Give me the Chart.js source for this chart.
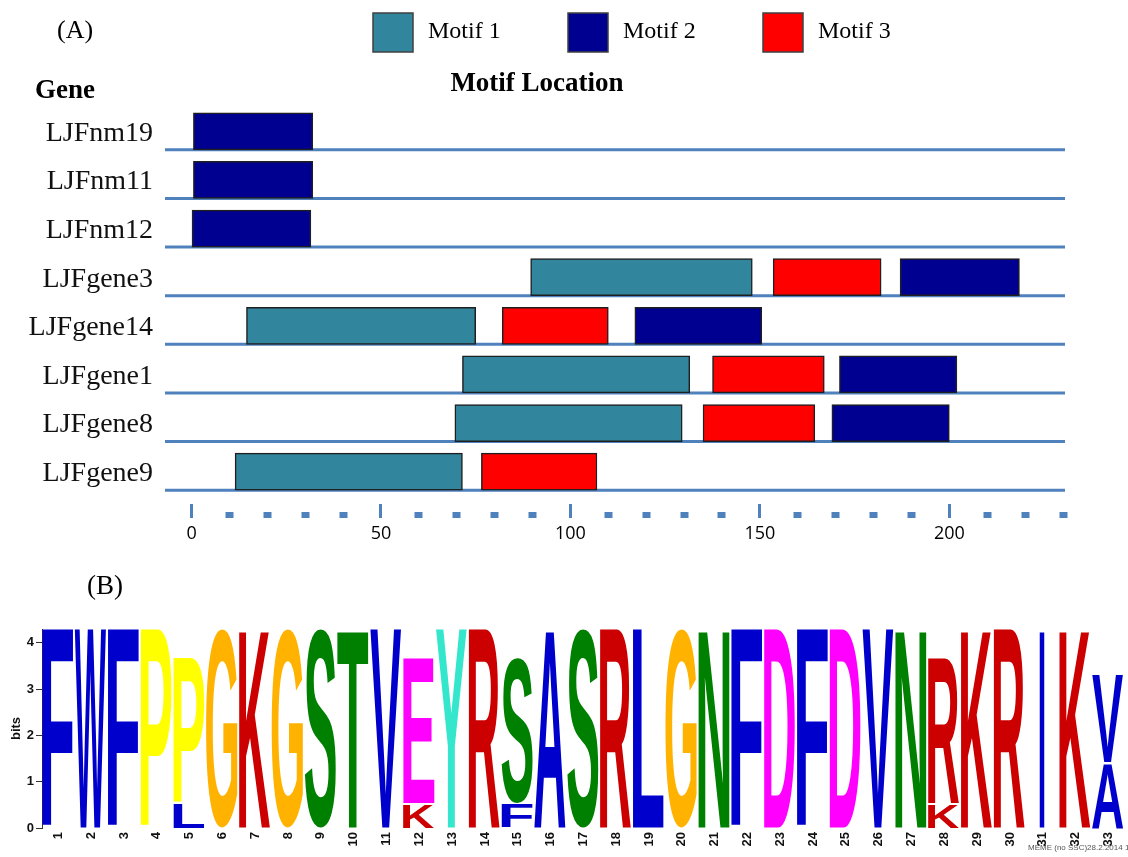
<!DOCTYPE html>
<html>
<head>
<meta charset="utf-8">
<title>Motif locations and sequence logo</title>
<script src="https://cdn.jsdelivr.net/npm/chart.js@4.4.1/dist/chart.umd.min.js"></script>
<style>
  html, body { margin: 0; padding: 0; background: #ffffff; }
  #wrap { position: relative; width: 1128px; height: 857px; overflow: hidden; background: #ffffff; }
  canvas { position: absolute; left: 0; }
  #motifs { top: 0; }
  #logo { top: 560px; }
</style>
</head>
<body>
<div id="wrap">
  <canvas id="motifs" width="1128" height="560"></canvas>
  <canvas id="logo" width="1128" height="297"></canvas>
</div>
<script>
// ---- Panel A: motif positions along each gene (start, end in residues) ----
const genes = ['LJFnm19', 'LJFnm11', 'LJFnm12', 'LJFgene3', 'LJFgene14', 'LJFgene1', 'LJFgene8', 'LJFgene9'];
const motif1 = [null, null, null, [89.5, 148], [14.5, 75], [71.5, 131.5], [69.5, 129.5], [11.5, 71.5]];
const motif2 = [[0.5, 32], [0.5, 32], [0, 31.5], [187, 218.5], [117, 150.5], [171, 202], [169, 200], null];
const motif3 = [null, null, null, [153.5, 182], [82, 110], [137.5, 167], [135, 164.5], [76.5, 107]];
const motifNames = ['Motif 1', 'Motif 2', 'Motif 3'];
const sequenceSpan = [-7, 230];
const residueTicks = [0, 10, 20, 30, 40, 50, 60, 70, 80, 90, 100, 110, 120, 130, 140, 150,
                      160, 170, 180, 190, 200, 210, 220, 230];
const residueLabels = ['0', '50', '100', '150', '200'];

// ---- Panel B: sequence logo (information content in bits) ----
const positions = ['1', '2', '3', '4', '5', '6', '7', '8', '9', '10', '11', '12', '13', '14', '15', '16', '17',
                   '18', '19', '20', '21', '22', '23', '24', '25', '26', '27', '28', '29', '30', '31', '32', '33'];
const topLetters = ['F', 'W', 'F', 'P', 'P', 'G', 'K', 'G', 'S', 'T', 'V', 'E', 'Y', 'R', 'S', 'A', 'S',
                    'R', 'L', 'G', 'N', 'F', 'D', 'F', 'D', 'V', 'N', 'R', 'K', 'R', 'I', 'K', 'V'];
const topBits = [4.3, 4.3, 4.3, 4.3, 3.16, 4.3, 4.3, 4.3, 4.3, 4.3, 4.3, 3.16, 4.3, 4.3, 3.16, 4.3, 4.3,
                 4.3, 4.3, 4.3, 4.3, 4.3, 4.3, 4.3, 4.3, 4.3, 4.3, 3.16, 4.3, 4.3, 4.3, 4.3, 1.9];
const baseLetters = ['', '', '', '', 'L', '', '', '', '', '', '', 'K', '', '', 'F', '', '',
                     '', '', '', '', '', '', '', '', '', '', 'K', '', '', '', '', 'A'];
const baseBits = [0, 0, 0, 0, 0.52, 0, 0, 0, 0, 0, 0, 0.52, 0, 0, 0.52, 0, 0,
                  0, 0, 0, 0, 0, 0, 0, 0, 0, 0, 0.52, 0, 0, 0, 0, 1.4];
const bitTicks = [0, 1, 2, 3, 4];
const bitsMax = 4.3;

const SERIF = '"Liberation Serif", "Times New Roman", serif';
const SANS = '"Liberation Sans", Arial, Helvetica, sans-serif';
const BAR_THICK = 37;
const BACKBONE = '#4F81BD';

// amino-acid colouring scheme
const AA_COLORS = {
  A: '#0000CC', C: '#0000CC', F: '#0000CC', I: '#0000CC', L: '#0000CC', V: '#0000CC', W: '#0000CC', M: '#0000CC',
  N: '#008000', Q: '#008000', S: '#008000', T: '#008000',
  D: '#FF00FF', E: '#FF00FF',
  K: '#CC0000', R: '#CC0000',
  H: '#FFCCCC', G: '#FFB300', P: '#FFFF00', Y: '#33E6CC'
};
// glyphs drawn narrower than the column
const NARROW = { I: 0.16 };

// gene backbones drawn under the motif boxes
const backbonePlugin = {
  id: 'backbones',
  beforeDatasetsDraw(chart) {
    const { ctx, scales: { x, y } } = chart;
    ctx.save();
    ctx.strokeStyle = BACKBONE;
    ctx.lineWidth = 3;
    genes.forEach((g, i) => {
      const yy = y.getPixelForValue(i) + BAR_THICK / 2;
      ctx.beginPath();
      ctx.moveTo(x.getPixelForValue(sequenceSpan[0]), yy);
      ctx.lineTo(x.getPixelForValue(sequenceSpan[1]) + 2, yy);
      ctx.stroke();
    });
    ctx.restore();
  }
};

// panel label, headings and legend of panel A
const panelAText = {
  id: 'panelAText',
  afterDraw(chart) {
    const ctx = chart.ctx;
    ctx.save();
    ctx.fillStyle = '#000';
    ctx.textBaseline = 'alphabetic';
    ctx.textAlign = 'left';
    ctx.font = `26px ${SERIF}`;
    ctx.fillText('(A)', 57, 38);
    ctx.font = `bold 27px ${SERIF}`;
    ctx.fillText('Gene', 35, 98);
    ctx.textAlign = 'center';
    ctx.fillText('Motif Location', 537, 91);

    ctx.textAlign = 'left';
    ctx.font = `24px ${SERIF}`;
    chart.data.datasets.forEach((ds, i) => {
      const bx = 373 + i * 195;
      ctx.fillStyle = ds.backgroundColor;
      ctx.fillRect(bx, 13, 40, 39);
      ctx.strokeStyle = '#404040';
      ctx.lineWidth = 1.5;
      ctx.strokeRect(bx, 13, 40, 39);
      ctx.fillStyle = '#000';
      ctx.fillText(ds.label, bx + 55, 38);
    });
    ctx.restore();
  }
};

const isMajor = c => c.tick && residueLabels.includes(String(c.tick.value));

new Chart(document.getElementById('motifs'), {
  type: 'bar',
  data: {
    labels: genes,
    datasets: [
      { label: motifNames[0], data: motif1, backgroundColor: '#31859C' },
      { label: motifNames[1], data: motif2, backgroundColor: '#000090' },
      { label: motifNames[2], data: motif3, backgroundColor: '#FF0000' }
    ]
  },
  options: {
    indexAxis: 'y',
    responsive: false,
    animation: false,
    devicePixelRatio: 1,
    layout: { padding: { left: 25, right: 65, top: 107, bottom: 14 } },
    datasets: {
      bar: { grouped: false, barThickness: BAR_THICK, borderColor: '#1f1f1f', borderWidth: 1.5, borderSkipped: false }
    },
    plugins: { legend: { display: false }, tooltip: { enabled: false } },
    scales: {
      x: {
        type: 'linear',
        position: 'bottom',
        min: sequenceSpan[0],
        max: sequenceSpan[1],
        afterBuildTicks: s => { s.ticks = residueTicks.map(v => ({ value: v })); },
        afterFit: s => { s.height = 50; },
        border: { display: false },
        grid: {
          drawOnChartArea: false,
          drawTicks: true,
          tickLength: 22,
          color: BACKBONE,
          tickColor: BACKBONE,
          tickWidth: c => (isMajor(c) ? 3 : 8),
          tickBorderDash: c => (isMajor(c) ? [0, 8, 14, 100] : [0, 16, 6, 100])
        },
        ticks: {
          autoSkip: false,
          maxRotation: 0,
          padding: 5,
          color: '#000',
          font: { family: '"Open Sans", "Noto Sans", sans-serif', size: 18 },
          callback: v => (residueLabels.includes(String(v)) ? String(v) : '')
        }
      },
      y: {
        afterFit: s => { s.width = 140; },
        border: { display: false },
        grid: { display: false, drawTicks: false },
        ticks: { padding: 12, labelOffset: 2, color: '#111', font: { family: SERIF, size: 28 } }
      }
    }
  },
  plugins: [backbonePlugin, panelAText]
});

// one letter stretched to fill a box
function drawGlyph(ctx, ch, x0, x1, top, bottom, color) {
  ctx.save();
  ctx.font = `bold 100px ${SANS}`;
  ctx.textAlign = 'left';
  ctx.textBaseline = 'alphabetic';
  const m = ctx.measureText(ch);
  const gw = m.actualBoundingBoxLeft + m.actualBoundingBoxRight;
  const gh = m.actualBoundingBoxAscent + m.actualBoundingBoxDescent;
  let w = x1 - x0;
  let left = x0;
  if (NARROW[ch]) {
    const nw = w * NARROW[ch];
    left = x0 + (w - nw) / 2;
    w = nw;
  }
  ctx.translate(left, bottom);
  ctx.scale(w / gw, (bottom - top) / gh);
  ctx.fillStyle = color;
  ctx.fillText(ch, m.actualBoundingBoxLeft, -m.actualBoundingBoxDescent);
  ctx.restore();
}

// letters of the logo, placed in the stacked bar boxes
const logoLetters = {
  id: 'logoLetters',
  afterDatasetsDraw(chart) {
    const ctx = chart.ctx;
    chart.data.datasets.forEach((ds, di) => {
      const meta = chart.getDatasetMeta(di);
      meta.data.forEach((el, i) => {
        const ch = ds.letters[i];
        if (!ch || !ds.data[i]) return;
        const half = el.width / 2;
        const gapBelow = di === 1 && baseBits[i] > 0 ? 1 : 0;
        drawGlyph(ctx, ch, el.x - half, el.x + half - 1.5, el.y, el.base - gapBelow, AA_COLORS[ch] || '#000');
      });
    });
  }
};

const panelBText = {
  id: 'panelBText',
  afterDraw(chart) {
    const ctx = chart.ctx;
    ctx.save();
    ctx.fillStyle = '#000';
    ctx.textAlign = 'left';
    ctx.textBaseline = 'alphabetic';
    ctx.font = `27px ${SERIF}`;
    ctx.fillText('(B)', 87, 34);
    ctx.fillStyle = '#555';
    ctx.font = `8px ${SANS}`;
    ctx.fillText('MEME (no SSC)28.2.2014 12:', 1028, 290);
    ctx.restore();
  }
};

new Chart(document.getElementById('logo'), {
  type: 'bar',
  data: {
    labels: positions,
    datasets: [
      { label: 'minor residue', data: baseBits, letters: baseLetters, backgroundColor: 'rgba(0,0,0,0)' },
      { label: 'major residue', data: topBits, letters: topLetters, backgroundColor: 'rgba(0,0,0,0)' }
    ]
  },
  options: {
    responsive: false,
    animation: false,
    devicePixelRatio: 1,
    layout: { padding: { left: 0, right: 0, top: 69, bottom: 0 } },
    datasets: { bar: { categoryPercentage: 1, barPercentage: 1, borderWidth: 0 } },
    plugins: { legend: { display: false }, tooltip: { enabled: false } },
    scales: {
      x: {
        stacked: true,
        afterFit: s => { s.height = 29; },
        grid: { display: false, drawTicks: false },
        border: { display: false },
        ticks: {
          minRotation: 90, maxRotation: 90, autoSkip: false, padding: 4, color: '#111',
          font: { family: SANS, size: 13, weight: 'bold' }
        }
      },
      y: {
        stacked: true,
        min: 0,
        max: bitsMax,
        afterBuildTicks: s => { s.ticks = bitTicks.map(v => ({ value: v })); },
        afterFit: s => { s.width = 42; },
        border: { display: true, color: '#333', width: 1 },
        grid: { drawOnChartArea: false, tickLength: 6, tickColor: '#333' },
        ticks: {
          padding: 2, color: '#111',
          font: { family: SANS, size: 13, weight: 'bold' }
        },
        title: {
          display: true, text: 'bits', color: '#111',
          font: { family: SANS, size: 13, weight: 'bold' },
          padding: { top: 9, bottom: 0 }
        }
      }
    }
  },
  plugins: [logoLetters, panelBText]
});
</script>
</body>
</html>
